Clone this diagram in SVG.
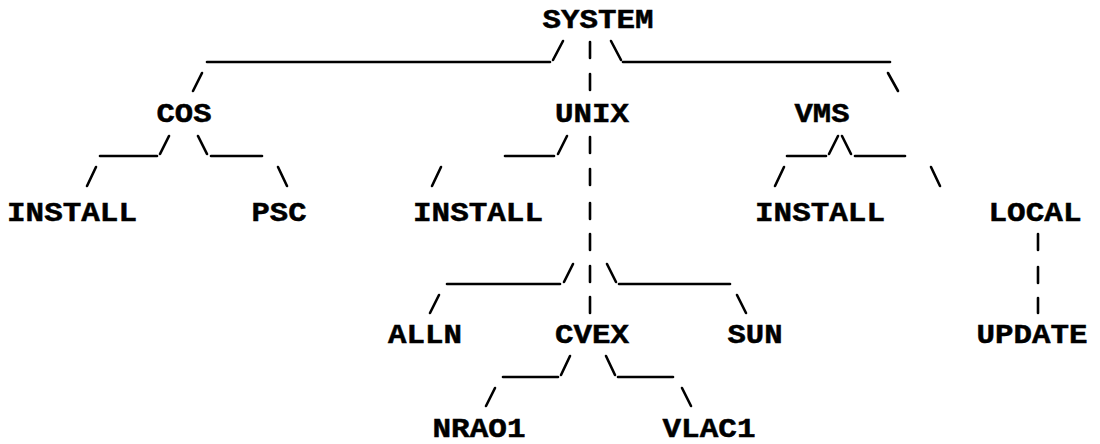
<svg xmlns="http://www.w3.org/2000/svg" width="1100" height="444" viewBox="0 0 1100 444">
<style>
.t{font-family:"Liberation Mono","Courier New",monospace;font-weight:bold;font-size:28px;fill:#000;stroke:#000;stroke-width:0.5;text-anchor:middle}
.c line{stroke:#000;stroke-width:2.6;stroke-linecap:round}
</style>
<rect width="1100" height="444" fill="#fff"/>
<g id="connectors" class="c">
<!-- row1 -->
<line x1="207" y1="62" x2="550" y2="62"/>
<line x1="553" y1="60" x2="563" y2="41"/>
<line x1="590" y1="42" x2="590" y2="58"/>
<line x1="611" y1="41" x2="621" y2="60"/>
<line x1="623" y1="62" x2="890" y2="62"/>
<!-- row2 -->
<line x1="193" y1="91" x2="202" y2="73"/>
<line x1="590" y1="74" x2="590" y2="90"/>
<line x1="888" y1="73" x2="898" y2="91"/>
<!-- row4 -->
<line x1="100" y1="156" x2="157" y2="156"/>
<line x1="160" y1="154" x2="169" y2="136"/>
<line x1="198" y1="136" x2="207" y2="154"/>
<line x1="211" y1="156" x2="262" y2="156"/>
<line x1="505" y1="156" x2="554" y2="156"/>
<line x1="558" y1="154" x2="567" y2="136"/>
<line x1="590" y1="137" x2="590" y2="153"/>
<line x1="787" y1="156" x2="826" y2="156"/>
<line x1="829" y1="154" x2="838" y2="136"/>
<line x1="842" y1="136" x2="851" y2="154"/>
<line x1="855" y1="156" x2="905" y2="156"/>
<!-- row5 -->
<line x1="87" y1="186" x2="96" y2="167"/>
<line x1="278" y1="167" x2="287" y2="186"/>
<line x1="432" y1="186" x2="441" y2="167"/>
<line x1="590" y1="169" x2="590" y2="185"/>
<line x1="775" y1="186" x2="784" y2="167"/>
<line x1="931" y1="167" x2="940" y2="186"/>
<!-- row6 -->
<line x1="590" y1="203" x2="590" y2="219"/>
<!-- row7 -->
<line x1="590" y1="234" x2="590" y2="250"/>
<line x1="1038" y1="234" x2="1038" y2="250"/>
<!-- row8 -->
<line x1="447" y1="284" x2="560" y2="284"/>
<line x1="564" y1="282" x2="573" y2="264"/>
<line x1="590" y1="266" x2="590" y2="282"/>
<line x1="607" y1="264" x2="616" y2="282"/>
<line x1="619" y1="284" x2="730" y2="284"/>
<line x1="1038" y1="267" x2="1038" y2="283"/>
<!-- row9 -->
<line x1="430" y1="313" x2="439" y2="295"/>
<line x1="590" y1="297" x2="590" y2="313"/>
<line x1="737" y1="295" x2="746" y2="313"/>
<line x1="1038" y1="298" x2="1038" y2="313"/>
<!-- row11 -->
<line x1="503" y1="377" x2="558" y2="377"/>
<line x1="561" y1="375" x2="570" y2="356"/>
<line x1="606" y1="356" x2="615" y2="375"/>
<line x1="618" y1="377" x2="673" y2="377"/>
<!-- row12 -->
<line x1="486" y1="406" x2="495" y2="388"/>
<line x1="682" y1="388" x2="691" y2="406"/>
</g>
<g id="n-system"><text class="t" x="598" y="28" textLength="111" lengthAdjust="spacingAndGlyphs">SYSTEM</text></g>
<g id="n-cos"><text class="t" x="184" y="122" textLength="55" lengthAdjust="spacingAndGlyphs">COS</text></g>
<g id="n-unix"><text class="t" x="592" y="122" textLength="74" lengthAdjust="spacingAndGlyphs">UNIX</text></g>
<g id="n-vms"><text class="t" x="822" y="122" textLength="55" lengthAdjust="spacingAndGlyphs">VMS</text></g>
<g id="n-cos-install"><text class="t" x="72" y="221" textLength="130" lengthAdjust="spacingAndGlyphs">INSTALL</text></g>
<g id="n-psc"><text class="t" x="279" y="221" textLength="55" lengthAdjust="spacingAndGlyphs">PSC</text></g>
<g id="n-unix-install"><text class="t" x="478" y="221" textLength="130" lengthAdjust="spacingAndGlyphs">INSTALL</text></g>
<g id="n-vms-install"><text class="t" x="820" y="221" textLength="130" lengthAdjust="spacingAndGlyphs">INSTALL</text></g>
<g id="n-local"><text class="t" x="1035" y="221" textLength="93" lengthAdjust="spacingAndGlyphs">LOCAL</text></g>
<g id="n-alln"><text class="t" x="425" y="343" textLength="74" lengthAdjust="spacingAndGlyphs">ALLN</text></g>
<g id="n-cvex"><text class="t" x="592" y="343" textLength="74" lengthAdjust="spacingAndGlyphs">CVEX</text></g>
<g id="n-sun"><text class="t" x="755" y="343" textLength="55" lengthAdjust="spacingAndGlyphs">SUN</text></g>
<g id="n-update"><text class="t" x="1032" y="343" textLength="111" lengthAdjust="spacingAndGlyphs">UPDATE</text></g>
<g id="n-nrao1"><text class="t" x="479" y="437" textLength="93" lengthAdjust="spacingAndGlyphs">NRAO1</text></g>
<g id="n-vlac1"><text class="t" x="709" y="437" textLength="93" lengthAdjust="spacingAndGlyphs">VLAC1</text></g>
</svg>
